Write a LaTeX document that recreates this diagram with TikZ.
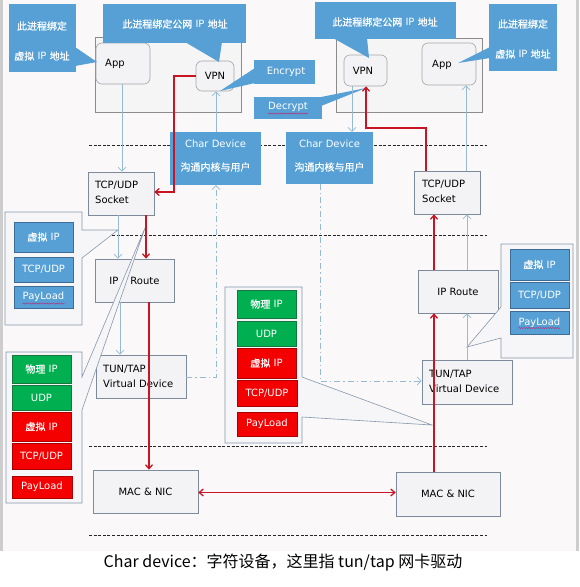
\documentclass[tikz,border=0pt]{standalone}
\usepackage{fontspec}
\setmainfont{DejaVu Sans}
\newfontfamily\cjk{Noto Sans CJK SC}
\newfontfamily\cjkb{Noto Sans CJK SC}[FakeBold=0.6]
\usetikzlibrary{arrows.meta,decorations.pathmorphing}
\definecolor{bgc}{RGB}{250,248,248}
\definecolor{edgec}{RGB}{205,205,205}
\definecolor{cblue}{RGB}{86,160,214}
\definecolor{sbord}{RGB}{62,108,150}
\definecolor{gfill}{RGB}{0,176,80}
\definecolor{gbord}{RGB}{20,120,60}
\definecolor{rfill}{RGB}{245,0,0}
\definecolor{rbord}{RGB}{170,0,0}
\definecolor{boxb}{RGB}{125,138,155}
\definecolor{boxf}{RGB}{243,243,245}
\definecolor{procb}{RGB}{140,140,140}
\definecolor{procf}{RGB}{245,245,246}
\definecolor{stkb}{RGB}{135,152,172}
\definecolor{stkf}{RGB}{246,246,248}
\definecolor{redar}{RGB}{200,20,35}
\definecolor{bluar}{RGB}{150,186,212}
\definecolor{wavyc}{RGB}{170,60,130}
\begin{document}
\begin{tikzpicture}[x=1pt,y=-1pt,
  font=\fontsize{10}{12}\selectfont,
  box/.style={draw=boxb,fill=boxf,line width=0.6pt,inner sep=0pt},
  rbox/.style={draw=gray!70,fill=boxf,line width=0.6pt,rounded corners=6pt,inner sep=0pt},
  proc/.style={draw=procb,fill=procf,line width=0.6pt,inner sep=0pt},
  call/.style={fill=cblue,inner sep=0pt},
  wt/.style={text=white,inner sep=0pt},
  txt/.style={inner sep=0pt,align=left,font=\fontsize{10}{15}\selectfont},
  sbx/.style={fill=cblue,draw=sbord,line width=0.6pt,text=white,inner sep=0pt},
  gbx/.style={fill=gfill,draw=gbord,line width=0.6pt,text=white,inner sep=0pt},
  rbx/.style={fill=rfill,draw=rbord,line width=0.6pt,text=white,inner sep=0pt},
  stk/.style={draw=stkb,fill=stkf,line width=0.6pt},
  dline/.style={draw=black!85,line width=0.9pt,dash pattern=on 3pt off 1.6pt},
  barrow/.style={draw=bluar,line width=0.7pt,-{Straight Barb[length=4pt,width=8pt]}},
  ddarrow/.style={barrow,dash pattern=on 6pt off 3pt on 1.2pt off 3pt},
  rarrow/.style={draw=redar,line width=1.3pt,-{Straight Barb[length=4pt,width=7pt]}},
  wavy/.style={draw=wavyc,line width=0.5pt,decorate,decoration={snake,amplitude=0.6pt,segment length=2.4pt}},
]
\useasboundingbox (0,0) rectangle (580,587);
\fill[white] (0,0) rectangle (580,587);
\fill[bgc] (3,0) rectangle (576,551);
\fill[edgec] (0,0) rectangle (3,551);
\fill[edgec] (576,0) rectangle (579,551);

% dashed layer lines
\draw[dline] (89,145) -- (487,145);
\draw[dline] (89,235) -- (487,235);
\draw[dline] (89,446) -- (487,446);
\draw[dline] (89,535) -- (487,535);

% process boxes
\node[proc,minimum width=146pt,minimum height=75pt] (procL) at (168,74.5) {};
\node[proc,minimum width=146pt,minimum height=74pt] (procR) at (409,75) {};
\node[rbox,minimum width=54pt,minimum height=41pt] (appL) at (123,63.5) {};
\node[txt,anchor=west] (appLt) at (105,64) {App};
\node[rbox,minimum width=38pt,minimum height=30pt] (vpnL) at (215,76) {VPN};
\node[rbox,minimum width=43pt,minimum height=31pt] (vpnR) at (365.5,70.5) {};
\node[txt] (vpnRt) at (363,71) {VPN};
\node[rbox,minimum width=54pt,minimum height=42pt] (appR) at (449,64) {};
\node[txt,anchor=west] (appRt) at (432,65) {App};

% blue callouts
\node[call,minimum width=67pt,minimum height=68pt] (cTL) at (42.5,38) {};
\fill[cblue] (75,47) -- (97,62) -- (75,66) -- cycle;
\node[wt] (cTLa) at (42,26) {\cjkb 此进程绑定};
\node[wt] (cTLb) at (42,56) {{\cjkb 虚拟} IP {\cjkb 地址}};

\node[call,minimum width=143pt,minimum height=39pt] (cTC) at (174.5,23.5) {};
\fill[cblue] (185,42) -- (219,62) -- (222,42) -- cycle;
\node[wt] (cTCt) at (175,24) {{\cjkb 此进程绑定公网} IP {\cjkb 地址}};

\node[call,minimum width=61pt,minimum height=24pt] (cEnc) at (284.5,72) {};
\fill[cblue] (255,68) -- (220,91) -- (255,83) -- cycle;
\node[wt] (cEnct) at (286,72) {Encrypt};

\node[call,minimum width=68pt,minimum height=22pt] (cDec) at (288,108) {};
\fill[cblue] (321,97) -- (366,88) -- (321,106) -- cycle;
\node[wt] (cDect) at (288,107) {Decrypt};
\draw[wavy] (268,113.5) -- (308,113.5);

\node[call,minimum width=141pt,minimum height=37pt] (cTR) at (385.5,20.5) {};
\fill[cblue] (333,38) -- (369,58) -- (367,38) -- cycle;
\node[wt] (cTRt) at (385,22) {{\cjkb 此进程绑定公网} IP {\cjkb 地址}};

\node[call,minimum width=68pt,minimum height=67pt] (cTRR) at (523,37.5) {};
\fill[cblue] (490,47) -- (458,63) -- (490,58) -- cycle;
\node[wt] (cTRRa) at (523,24) {\cjkb 此进程绑定};
\node[wt] (cTRRb) at (523,54) {{\cjkb 虚拟} IP {\cjkb 地址}};

% main boxes
\node[call,text=white,minimum width=91pt,minimum height=53pt] (charL) at (215.5,158.5) {};
\node[wt] (charLa) at (215.5,144) {Char Device};
\node[wt] (charLb) at (215.5,167) {\cjkb 沟通内核与用户};
\node[call,text=white,minimum width=87pt,minimum height=52pt] (charR) at (329.5,158) {};
\node[wt] (charRa) at (329.5,144) {Char Device};
\node[wt] (charRb) at (329.5,167) {\cjkb 沟通内核与用户};

\node[box,minimum width=66pt,minimum height=43pt] (sockL) at (121,193.5) {};
\node[txt,anchor=west] (sockLt) at (95,192.5) {TCP/UDP\\Socket};
\node[box,minimum width=66pt,minimum height=43pt] (sockR) at (447,192.5) {};
\node[txt,anchor=west] (sockRt) at (422,191) {TCP/UDP\\Socket};

\node[box,minimum width=79pt,minimum height=43pt] (routeL) at (134.5,280.5) {IP\hspace{12pt}Route};
\node[box,minimum width=80pt,minimum height=43pt] (routeR) at (458,291.5) {IP Route};

\node[box,minimum width=90pt,minimum height=43pt] (tunL) at (141,376.5) {};
\node[txt,anchor=west] (tunLt) at (103,376.5) {TUN/TAP\\Virtual Device};
\node[box,minimum width=90pt,minimum height=44pt] (tunR) at (467,382) {};
\node[txt,anchor=west] (tunRt) at (429,381.5) {TUN/TAP\\Virtual Device};

\node[box,minimum width=105pt,minimum height=43pt] (macL) at (145.5,491.5) {MAC \& NIC};
\node[box,minimum width=104pt,minimum height=44pt] (macR) at (448,494) {MAC \& NIC};

% stack callouts
\draw[stk] (5,212) -- (82,212) -- (82,230) -- (118,230) -- (82,258) -- (82,325) -- (5,325) -- cycle;
\node[sbx,minimum width=59pt,minimum height=30pt] (lb1) at (43.5,237) {{\cjkb 虚拟} IP};
\node[sbx,minimum width=59pt,minimum height=25pt] (lb2) at (43.5,269.5) {TCP/UDP};
\node[sbx,minimum width=59pt,minimum height=22pt] (lb3) at (43.5,297) {PayLoad};
\draw[wavy] (22.5,303.5) -- (64.5,303.5);

\draw[stk] (6,352) -- (82,352) -- (82,377) -- (145,228) -- (82,410) -- (82,503) -- (6,503) -- cycle;
\node[gbx,minimum width=59pt,minimum height=28pt] (lg1) at (41.5,369) {{\cjkb 物理} IP};
\node[gbx,minimum width=59pt,minimum height=25pt] (lg2) at (41.5,397.5) {UDP};
\node[rbx,minimum width=59pt,minimum height=29pt] (lr1) at (41.5,426.5) {{\cjkb 虚拟} IP};
\node[rbx,minimum width=59pt,minimum height=26pt] (lr2) at (41.5,456) {TCP/UDP};
\node[rbx,minimum width=60pt,minimum height=22pt] (lr3) at (42,487) {PayLoad};

\draw[stk] (225,287) -- (302,287) -- (302,377) -- (432,425) -- (302,417) -- (302,443) -- (225,443) -- cycle;
\node[gbx,minimum width=59pt,minimum height=28pt] (mg1) at (266.5,304) {{\cjkb 物理} IP};
\node[gbx,minimum width=59pt,minimum height=25pt] (mg2) at (266.5,333.5) {UDP};
\node[rbx,minimum width=59pt,minimum height=30pt] (mr1) at (266.5,363) {{\cjkb 虚拟} IP};
\node[rbx,minimum width=60pt,minimum height=26pt] (mr2) at (267,393) {TCP/UDP};
\node[rbx,minimum width=60pt,minimum height=24pt] (mr3) at (267,424) {PayLoad};

\draw[stk] (501,244) -- (573,244) -- (573,358) -- (501,358) -- (501,338) -- (467,347) -- (501,307) -- cycle;
\node[sbx,minimum width=59pt,minimum height=31pt] (rb1) at (539.5,264.5) {{\cjkb 虚拟} IP};
\node[sbx,minimum width=59pt,minimum height=26pt] (rb2) at (539.5,295) {TCP/UDP};
\node[sbx,minimum width=59pt,minimum height=23pt] (rb3) at (539.5,322.5) {PayLoad};
\draw[wavy] (518.5,328) -- (560.5,328);

% helper coordinates
\coordinate (xa) at (122,0);
\coordinate (xb) at (118,0);
\coordinate (xc) at (120,0);
\coordinate (xd) at (216,0);
\coordinate (xe) at (352,0);
\coordinate (xf) at (467,0);
\coordinate (xg) at (466,0);
\coordinate (xh) at (146,0);
\coordinate (xi) at (149,0);
\coordinate (xj) at (434,0);
\coordinate (k1) at (174,76);
\coordinate (k2) at (174,192);
\coordinate (k3) at (426,128);
\coordinate (k4) at (366,128);
\coordinate (k5) at (216,377);
\coordinate (k6) at (320,381);
\coordinate (k7) at (0,492.5);

% light blue arrows
\draw[barrow] (appL.south -| xa) -- (sockL.north -| xa);
\draw[barrow] (sockL.south -| xb) -- (routeL.north -| xb);
\draw[barrow] (routeL.south -| xc) -- (tunL.north -| xc);
\draw[barrow] (charL.north -| xd) -- (vpnL.south -| xd);
\draw[barrow] (vpnR.south -| xe) -- (charR.north -| xe);
\draw[barrow] (tunR.north -| xf) -- (routeR.south -| xf);
\draw[barrow] (routeR.north -| xf) -- (sockR.south -| xf);
\draw[barrow] (sockR.north -| xg) -- (appR.south -| xg);
\draw[ddarrow] (tunL.east |- k5) -- (k5) -- (charL.south -| k5);
\draw[ddarrow] (charR.south -| k6) -- (k6) -- (tunR.west |- k6);

% red arrows
\draw[rarrow] (vpnL.west) -- (k1) -- (k2) -- (sockL.east |- k2);
\draw[rarrow] (sockL.south -| xh) -- (routeL.north -| xh);
\draw[rarrow] (routeL.south -| xi) -- (macL.north -| xi);
\draw[rarrow,{Straight Barb[length=4pt,width=7pt]}-{Straight Barb[length=4pt,width=7pt]}] (macL.east |- k7) -- (macR.west |- k7);
\draw[rarrow] (macR.north -| xj) -- (routeR.south -| xj);
\draw[rarrow] (routeR.north -| xj) -- (sockR.south -| xj);
\draw[rarrow] (sockR.north -| k3) -- (k3) -- (k4) -- (vpnR.south -| k4);

% caption
\node[inner sep=0pt] (cap) at (283,563) {\cjk\fontsize{16}{16}\selectfont Char device：字符设备，这里指 tun/tap 网卡驱动};
\end{tikzpicture}
\end{document}
